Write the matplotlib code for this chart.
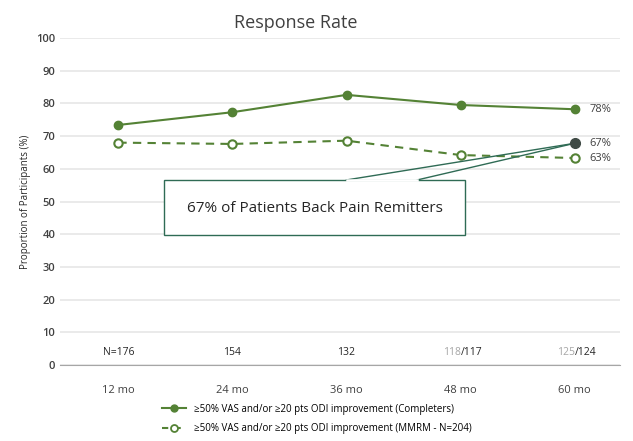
import matplotlib
matplotlib.use("Agg")
import matplotlib.pyplot as plt
from matplotlib.lines import Line2D
from matplotlib.patches import Rectangle

categories = ["12 mo", "24 mo", "36 mo", "48 mo", "60 mo"]
completers = [73.4, 77.3, 82.6, 79.5, 78.2]
mmrm = [68.0, 67.6, 68.6, 64.2, 63.3]
remitters_value = 67.8
n_grey = ["", "", "", "118", "125"]
n_black = ["N=176", "154", "132", "/117", "/124"]
end_labels = ["78%", "67%", "63%"]
title = "Response Rate"
ylabel = "Proportion of Participants (%)"
callout = "67% of Patients Back Pain Remitters"
legend_labels = ["\u226550% VAS and/or \u226520 pts ODI improvement (Completers)",
                 "\u226550% VAS and/or \u226520 pts ODI improvement (MMRM - N=204)"]

green = "#548235"
dark = "#3f4a45"
teal = "#2f6b55"

plt.rcParams['font.family'] = ['Open Sans', 'DejaVu Sans']
fig = plt.figure(figsize=(6.33, 4.41), dpi=100)
ax = fig.add_axes([0.095, 0.172, 0.885, 0.742])
x = list(range(len(categories)))

ax.set_ylim(0, 100)
ax.set_xlim(-0.51, 4.40)
ax.set_yticks(range(0, 101, 10))
ax.yaxis.grid(True, color="#e6e6e6", lw=1.2)
ax.set_axisbelow(True)
for s in ["top", "right", "left"]:
    ax.spines[s].set_visible(False)
ax.spines["bottom"].set_color("#a6a6a6")
ax.tick_params(axis="both", length=0, labelsize=8, colors="#404040")
ax.tick_params(axis="x", pad=14, labelsize=8)
for lbl in ax.get_yticklabels():
    lbl.set_fontweight("semibold")
ax.set_xticks(x)
ax.set_xticklabels(categories)
ax.set_ylabel(ylabel, fontsize=7, color="#262626")
ax.set_title(title, fontsize=13, color="#404040", pad=7, x=0.42)

ax.plot(x, completers, color=green, lw=1.5, marker="o", ms=6)
ax.plot(x, mmrm, color=green, lw=1.5, ls=(0, (4, 3)), marker="o", ms=6,
        mfc="white", mew=1.5)

# callout pointer (lines only)
ax.plot([2.0, x[-1]], [56.6, remitters_value], color=teal, lw=1, zorder=4)
ax.plot([2.62, x[-1]], [56.6, remitters_value], color=teal, lw=1, zorder=4)
ax.plot(x[-1], remitters_value, "o", color=dark, ms=7, zorder=6)
ax.add_patch(Rectangle((0.40, 39.8), 2.64, 16.8, facecolor="white",
                       edgecolor=teal, lw=1, zorder=5))
ax.plot([2.0, 2.62], [56.6, 56.6], color="white", lw=1.8, zorder=5.5)
ax.text(1.72, 48.0, callout, ha="center", va="center", fontsize=11,
        color="#262626", zorder=7)

ax.text(4.13, completers[-1], end_labels[0], va="center", fontsize=8, color="#404040")
ax.text(4.13, remitters_value, end_labels[1], va="center", fontsize=8, color="#404040")
ax.text(4.13, mmrm[-1], end_labels[2], va="center", fontsize=8, color="#404040")

for i in x:
    if n_grey[i]:
        ax.text(i, 4, n_grey[i], ha="right", va="center", fontsize=7.5, color="#a6a6a6")
        ax.text(i, 4, n_black[i], ha="left", va="center", fontsize=7.5, color="#262626")
    else:
        ax.text(i, 4, n_black[i], ha="center", va="center", fontsize=7.5, color="#262626")

handles = [Line2D([], [], color=green, lw=1.5, marker="o", ms=5),
           Line2D([], [], color=green, lw=1.5, ls=(0, (3, 3)), marker="o", ms=5,
                  mfc="white", mew=1.3)]
fig.legend(handles, legend_labels, loc="center", bbox_to_anchor=(0.5, 0.05),
           ncol=1, frameon=False, fontsize=7, handlelength=2.5, labelspacing=0.9)

fig.savefig("out.png", dpi=100)
